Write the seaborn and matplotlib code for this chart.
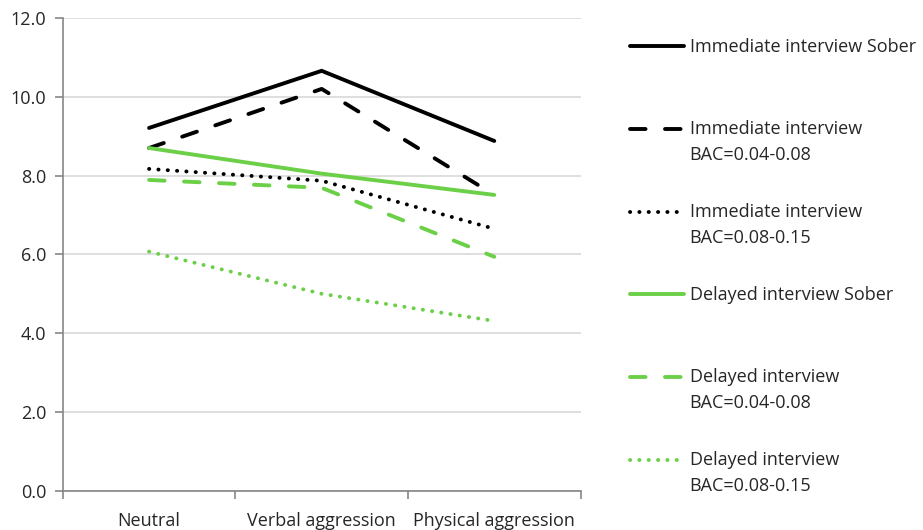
import seaborn as sns
import pandas as pd
import matplotlib.pyplot as plt
from matplotlib.ticker import FixedLocator, FormatStrFormatter
from matplotlib.legend_handler import HandlerLine2D

categories = ["Neutral", "Verbal aggression", "Physical aggression"]

imm_sober = [9.21, 10.66, 8.88]
imm_low = [8.70, 10.20, 7.51]
imm_high = [8.17, 7.87, 6.65]
del_sober = [8.70, 8.05, 7.51]
del_low = [7.89, 7.69, 5.94]
del_high = [6.07, 5.00, 4.31]

labels = ["Immediate interview Sober",
          "Immediate interview\nBAC=0.04-0.08",
          "Immediate interview\nBAC=0.08-0.15",
          "Delayed interview Sober",
          "Delayed interview\nBAC=0.04-0.08",
          "Delayed interview\nBAC=0.08-0.15"]

black = "#000000"
green = "#6BD047"
series = [
    (imm_sober, black, None),
    (imm_low, black, (4, 5)),
    (imm_high, black, (0.05, 2.35)),
    (del_sober, green, None),
    (del_low, green, (4, 5)),
    (del_high, green, (0.05, 2.35)),
]

FS = 13


class FirstLineHandler(HandlerLine2D):
    # legend labels are two lines; put the handle next to the first line
    def create_artists(self, legend, orig_handle, xdescent, ydescent,
                       width, height, fontsize, trans):
        arts = super().create_artists(legend, orig_handle, xdescent, ydescent,
                                      width, height, fontsize, trans)
        for a in arts:
            a.set_ydata([y + fontsize * 0.77 for y in a.get_ydata()])
        return arts


sns.set_style("white")
plt.rcParams['font.family'] = ['Open Sans', 'DejaVu Sans']

fig = plt.figure(figsize=(9.23, 5.30), dpi=100)
ax = fig.add_axes([0.068, 0.074, 0.561, 0.892])

for (vals, col, dash), lab in zip(series, labels):
    df = pd.DataFrame({"cat": categories, "val": vals})
    sns.lineplot(data=df, x="cat", y="val", color=col, lw=2.8, ax=ax,
                 label=lab, sort=False, solid_capstyle="round",
                 solid_joinstyle="miter")
    line = ax.lines[-1]
    if dash is not None:
        line.set_dashes(dash)
        line.set_dash_capstyle("round")

ax.set_xlim(-0.5, 2.5)
ax.set_ylim(0, 12)
ax.set_yticks([0, 2, 4, 6, 8, 10, 12])
ax.yaxis.set_major_formatter(FormatStrFormatter("%.1f"))
ax.yaxis.grid(True, color="#D9D9D9", lw=1.2)
ax.set_axisbelow(True)
ax.set_xlabel("")
ax.set_ylabel("")

ax.xaxis.set_minor_locator(FixedLocator([-0.5, 0.5, 1.5, 2.5]))
ax.tick_params(axis="x", which="major", length=0, pad=15, labelsize=FS)
ax.tick_params(axis="x", which="minor", length=6, width=1.2, color="#868686",
               direction="out", bottom=True)
ax.tick_params(axis="y", length=6, width=1.2, color="#868686", direction="out",
               left=True, labelsize=FS, pad=6)

for s in ["top", "right"]:
    ax.spines[s].set_visible(False)
for s in ["left", "bottom"]:
    ax.spines[s].set_color("#868686")
    ax.spines[s].set_linewidth(1.2)

handles, labs = ax.get_legend_handles_labels()
labs = [l if "\n" in l else l + "\n" for l in labs]
ax.get_legend().remove()
leg = fig.legend(handles, labs, loc="upper left", bbox_to_anchor=(0.6826, 0.929),
                 frameon=False, fontsize=FS, handlelength=3.0, handletextpad=0.3,
                 labelspacing=2.15, borderaxespad=0, borderpad=0,
                 handler_map={l: FirstLineHandler() for l in handles})
for t in leg.get_texts():
    t.set_linespacing(1.56)

fig.savefig("out.png", dpi=100)
